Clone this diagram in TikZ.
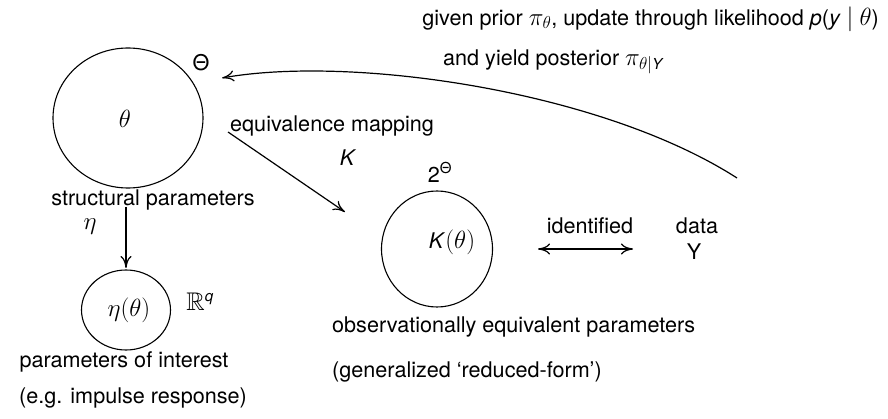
\documentclass[tikz,border=0pt]{standalone}
\usepackage{amsmath}
\usepackage{amssymb}
\usepackage{fontspec}
\setmainfont[Scale=0.847]{TeX Gyre Heros}
\usetikzlibrary{arrows.meta}
\newcommand{\sv}[1]{\textit{#1}}
\begin{document}
\begin{tikzpicture}[x=1pt,y=-1pt,
  every node/.style={inner sep=0pt,font=\fontsize{25.5}{30}\selectfont},
  region/.style={line width=1.1pt},
  tip/.tip={Computer Modern Rightarrow[length=12pt,width=11pt]},
  conn/.style={line width=1.2pt,-tip},
  biconn/.style={line width=1.2pt,tip-tip}]
\useasboundingbox (0,0) rectangle (888,419);

% parameter space Theta
\draw[region] (128,118) ellipse [x radius=75, y radius=70];
\node (theta) at (125,119) {$\theta$};
\node (Theta) at (201,63) {Θ};
\node (struct) at (153,200) {structural parameters};

% parameters of interest
\draw[region] (126,310) ellipse [x radius=44.5, y radius=40];
\node (etatheta) at (129,310) {$\eta(\theta)$};
\node (Rq) at (200,302) {$\mathbb{R}^{\text{\sv{q}}}$};
\node (poi) at (124,362) {parameters of interest};
\node (eg) at (133,398) {(e.g. impulse response)};
\coordinate (etaTop) at (126,207);
\coordinate (etaEnd) at (126,268);
\draw[conn] (etaTop) -- (etaEnd);
\node (eta) at (90,227) {$\eta$};

% equivalence mapping K
\coordinate (kStart) at (228,132);
\coordinate (kEnd) at (345,212);
\draw[conn] (kStart) -- (kEnd);
\node (eqmap) at (332,126) {equivalence mapping};
\node (K) at (348,158) {\sv{K}};

% reduced-form set
\draw[region] (437,249) ellipse [x radius=55.5, y radius=58];
\node (Ktheta) at (452,242) {\sv{K}$(\theta)$};
\node (twoTheta) at (440,172) {2$^{\text{Θ}}$};
\node[anchor=west] (obs) at (332,327) {observationally equivalent parameters};
\node[anchor=west] (gen) at (332,372) {(generalized ‘reduced-form’)};

% identification with the data
\node (ident) at (590,226) {identified};
\coordinate (idL) at (538,249);
\coordinate (idR) at (633,249);
\draw[biconn] (idL) -- (idR);
\node (data) at (697,226) {data};
\node (Y) at (694,252) {Y};

% Bayesian updating
\node[anchor=east] (prior) at (879,19) {given prior $\pi_\theta$, update through likelihood \sv{p}(\sv{y} $\mid$ $\theta$)};
\node[anchor=west] (post) at (443,62) {and yield posterior $\pi_{\theta|\text{\sv{Y}}}$};
\coordinate (upStart) at (737,178);
\coordinate (upEnd) at (222,78);
\draw[conn] (upStart) .. controls (600,90) and (350,55) .. (upEnd);
\end{tikzpicture}
\end{document}
